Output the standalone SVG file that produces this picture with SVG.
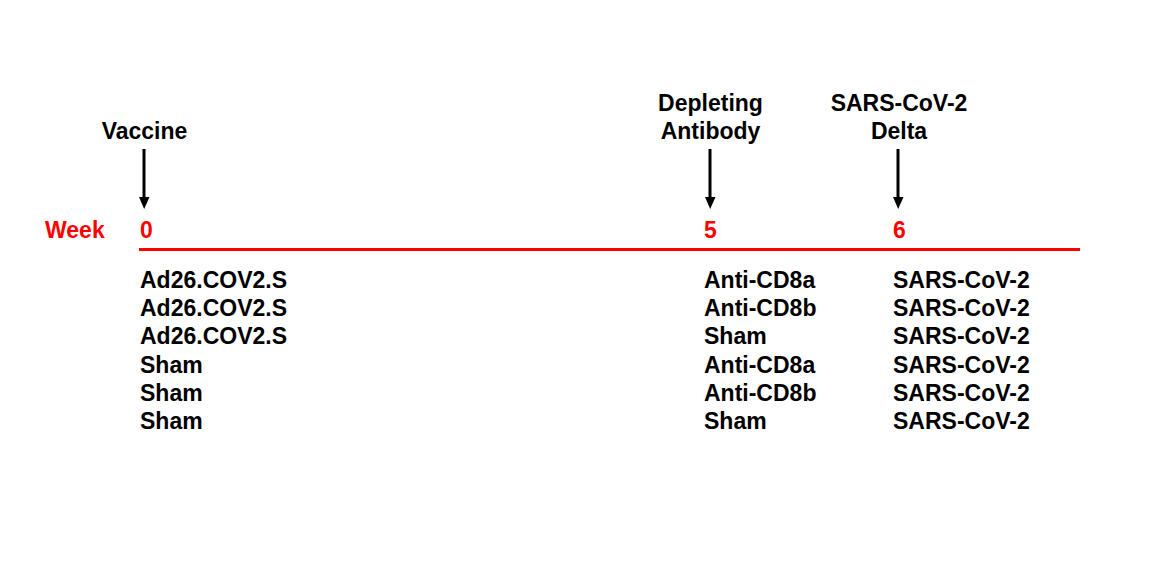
<svg xmlns="http://www.w3.org/2000/svg" width="1171" height="583" viewBox="0 0 1171 583">
<style>
text{font-family:"Liberation Sans",Arial,sans-serif;font-weight:bold;font-size:23px}
.blk{fill:#000}
.red{fill:#ff0000}
.mid{text-anchor:middle}
.arr{stroke:#000;stroke-width:3;fill:none}
</style>
<defs>
<marker id="ah" markerUnits="userSpaceOnUse" markerWidth="12" markerHeight="14" refX="5.5" refY="12" orient="auto-start-reverse" viewBox="0 0 11 12">
<path d="M0,0 L11,0 L5.5,12 Z" fill="#000"/>
</marker>
</defs>
<rect width="1171" height="583" fill="#fff"/>
<g id="timeline">
<line x1="139" y1="249.5" x2="1080" y2="249.5" stroke="#ff0000" stroke-width="3"/>
<text class="red" x="45" y="238">Week</text>
<text class="red" x="140" y="238">0</text>
<text class="red" x="704" y="238">5</text>
<text class="red" x="893" y="238">6</text>
</g>
<g id="connectors">
<path class="arr" d="M144,149 V197"/>
<path d="M139,197 L149.5,197 L144.2,209 Z" fill="#000"/>
<path class="arr" d="M710,149 V197"/>
<path d="M705,197 L715.5,197 L710.2,209 Z" fill="#000"/>
<path class="arr" d="M898,149 V197"/>
<path d="M893,197 L903.5,197 L898.2,209 Z" fill="#000"/>
</g>
<g id="vaccine">
<text class="blk mid" x="144.5" y="139">Vaccine</text>
</g>
<g id="depleting">
<text class="blk mid" x="710.5" y="111">Depleting</text>
<text class="blk mid" x="710.5" y="139">Antibody</text>
</g>
<g id="challenge">
<text class="blk mid" x="899" y="111">SARS-CoV-2</text>
<text class="blk mid" x="899" y="139">Delta</text>
</g>
<g id="col-vaccine">
<text class="blk" x="140" y="288">Ad26.COV2.S</text>
<text class="blk" x="140" y="316">Ad26.COV2.S</text>
<text class="blk" x="140" y="344">Ad26.COV2.S</text>
<text class="blk" x="140" y="372.5">Sham</text>
<text class="blk" x="140" y="400.5">Sham</text>
<text class="blk" x="140" y="428.5">Sham</text>
</g>
<g id="col-antibody">
<text class="blk" x="704" y="288">Anti-CD8a</text>
<text class="blk" x="704" y="316">Anti-CD8b</text>
<text class="blk" x="704" y="344">Sham</text>
<text class="blk" x="704" y="372.5">Anti-CD8a</text>
<text class="blk" x="704" y="400.5">Anti-CD8b</text>
<text class="blk" x="704" y="428.5">Sham</text>
</g>
<g id="col-challenge">
<text class="blk" x="893" y="288">SARS-CoV-2</text>
<text class="blk" x="893" y="316">SARS-CoV-2</text>
<text class="blk" x="893" y="344">SARS-CoV-2</text>
<text class="blk" x="893" y="372.5">SARS-CoV-2</text>
<text class="blk" x="893" y="400.5">SARS-CoV-2</text>
<text class="blk" x="893" y="428.5">SARS-CoV-2</text>
</g>
</svg>
